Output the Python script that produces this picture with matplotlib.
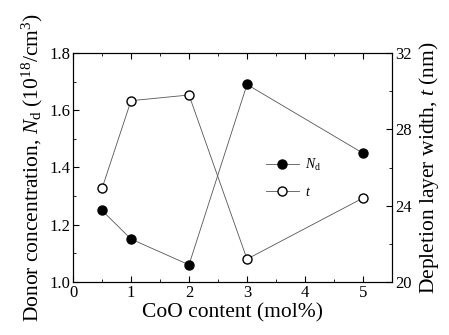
import matplotlib
matplotlib.use("Agg")
import matplotlib.pyplot as plt
from matplotlib.ticker import MultipleLocator
from matplotlib.lines import Line2D

plt.rcParams['font.family'] = ['Liberation Serif', 'DejaVu Serif']
plt.rcParams['mathtext.fontset'] = 'custom'
plt.rcParams['mathtext.rm'] = 'Liberation Serif'
plt.rcParams['mathtext.it'] = 'Liberation Serif:italic'

coo = [0.5, 1, 2, 3, 5]
nd = [1.25, 1.15, 1.06, 1.69, 1.45]
t_width = [24.9, 29.5, 29.8, 21.2, 24.4]

fig = plt.figure(figsize=(4.49, 3.35), dpi=100)
ax = fig.add_axes([73/449, 1-282/335, (392-73)/449, (282-53)/335])
ax2 = ax.twinx()

ax.plot(coo, nd, '-', color='#555555', lw=0.6, marker='o', ms=6.5,
        mfc='black', mec='black', zorder=3)
ax2.plot(coo, t_width, '-', color='#555555', lw=0.6, marker='o', ms=6.5,
         mfc='white', mec='black', mew=1.0, zorder=3)

ax.set_xlim(0, 5.5)
ax.set_ylim(1.0, 1.8)
ax2.set_ylim(20, 32)
ax.xaxis.set_major_locator(MultipleLocator(1))
ax.xaxis.set_minor_locator(MultipleLocator(0.5))
ax.yaxis.set_major_locator(MultipleLocator(0.2))
ax.yaxis.set_minor_locator(MultipleLocator(0.1))
ax2.yaxis.set_major_locator(MultipleLocator(4))
ax2.yaxis.set_minor_locator(MultipleLocator(2))
ax.yaxis.set_major_formatter(matplotlib.ticker.FormatStrFormatter('%.1f'))

ax.tick_params(which='both', direction='in', top=True, labelsize=12, pad=2)
ax.tick_params(which='major', length=4)
ax.tick_params(which='minor', length=2)
ax2.tick_params(which='both', direction='in', labelsize=12, pad=2)
ax2.tick_params(which='major', length=4)
ax2.tick_params(which='minor', length=2)

ax.set_xlabel('CoO content (mol%)', fontsize=15.5, labelpad=2)
ax.set_ylabel(r'Donor concentration, $N_\mathrm{d}$ (10$^{18}$/cm$^3$)', fontsize=15.5, labelpad=3)
ax2.set_ylabel(r'Depletion layer width, $t$ (nm)', fontsize=15.5, labelpad=4)

handles = [Line2D([], [], color='#555555', lw=0.6, marker='o', ms=6.5, mfc='black', mec='black'),
           Line2D([], [], color='#555555', lw=0.6, marker='o', ms=6.5, mfc='white', mec='black')]
ax.legend(handles, [r'$N_\mathrm{d}$', r'$t$'], loc='upper left',
          bbox_to_anchor=(0.565, 0.6), frameon=False, fontsize=10,
          handlelength=2.4, labelspacing=0.9, handletextpad=0.4)

fig.savefig('out.png', dpi=100)
